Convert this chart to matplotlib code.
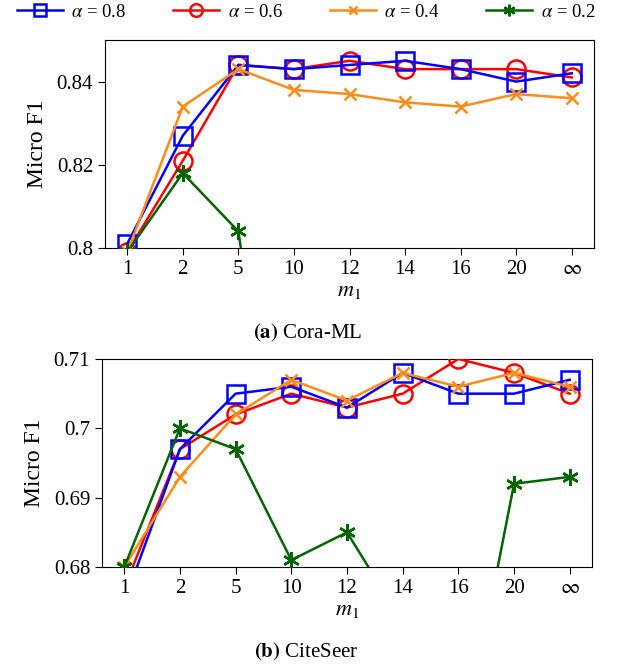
import numpy as np
import matplotlib
matplotlib.use('Agg')
import matplotlib.pyplot as plt

plt.rcParams['font.family'] = ['Liberation Serif', 'DejaVu Serif']
plt.rcParams['mathtext.fontset'] = 'stix'

# data
m1_labels = ['1', '2', '5', '10', '12', '14', '16', '20', r'$\infty$']
alphas = ['0.8', '0.6', '0.4', '0.2']

# Cora-ML
cora_08 = [0.801, 0.827, 0.844, 0.843, 0.844, 0.845, 0.843, 0.840, 0.842]
cora_06 = [0.799, 0.821, 0.844, 0.843, 0.845, 0.843, 0.843, 0.843, 0.841]
cora_04 = [0.799, 0.834, 0.843, 0.838, 0.837, 0.835, 0.834, 0.837, 0.836]
cora_02 = [0.799, 0.818, 0.804, 0.715, 0.72, 0.72, 0.71, 0.72, 0.72]

# CiteSeer
cite_08 = [0.675, 0.697, 0.705, 0.706, 0.703, 0.708, 0.705, 0.705, 0.707]
cite_06 = [0.677, 0.697, 0.702, 0.705, 0.703, 0.705, 0.710, 0.708, 0.705]
cite_04 = [0.680, 0.693, 0.702, 0.707, 0.704, 0.708, 0.706, 0.708, 0.706]
cite_02 = [0.680, 0.700, 0.697, 0.681, 0.685, 0.672, 0.651, 0.692, 0.693]

colors = ['#0000ff', '#ff0000', '#ff8c1a', '#006400']
markers = ['s', 'o', 'x', (6, 2, 0)]
msizes = [13, 13, 9, 12]
zorders = [4, 3, 5, 6]

x = np.arange(len(m1_labels))

fig = plt.figure(figsize=(6.25, 6.66), dpi=100)
ax1 = fig.add_axes([105 / 625, 1 - 248 / 666, 489 / 625, 208 / 666])
ax2 = fig.add_axes([102 / 625, 1 - 567 / 666, 490 / 625, 208 / 666])


def draw(ax, series, ylim, yticks, yticklabels):
    handles = []
    for vals, c, m, ms, z, a in zip(series, colors, markers, msizes, zorders, alphas):
        h, = ax.plot(x, vals, color=c, marker=m, markersize=ms, markerfacecolor='none',
                     markeredgewidth=1.8, linewidth=1.8, zorder=z,
                     label=r'$\alpha$ = ' + a)
        handles.append(h)
    ax.set_xlim(-0.4, 8.4)
    ax.set_ylim(*ylim)
    ax.set_xticks(x)
    ax.set_xticklabels(m1_labels)
    ax.set_yticks(yticks)
    ax.set_yticklabels(yticklabels)
    ax.tick_params(labelsize=15, direction='out', length=5, width=0.8)
    ax.set_xlabel(r'$m_1$', fontsize=16, labelpad=2)
    ax.set_ylabel('Micro F1', fontsize=17, labelpad=6)
    return handles


handles = draw(ax1, [cora_08, cora_06, cora_04, cora_02], (0.8, 0.85),
               [0.8, 0.82, 0.84], ['0.8', '0.82', '0.84'])
draw(ax2, [cite_08, cite_06, cite_04, cite_02], (0.68, 0.71),
     [0.68, 0.69, 0.7, 0.71], ['0.68', '0.69', '0.7', '0.71'])

fig.legend(handles=handles, loc='center', bbox_to_anchor=(0.49, 1 - 12 / 666), ncol=4,
           frameon=False, fontsize=13.5, handlelength=2.45, columnspacing=2.5,
           handletextpad=0.45, borderaxespad=0, markerscale=0.7)

fig.text(308 / 625, 1 - 333 / 666, r'$\mathbf{(a)}$ Cora-ML', ha='center', va='center', fontsize=15)
fig.text(306 / 625, 1 - 652 / 666, r'$\mathbf{(b)}$ CiteSeer', ha='center', va='center', fontsize=15)

fig.savefig('out.png', dpi=100)
